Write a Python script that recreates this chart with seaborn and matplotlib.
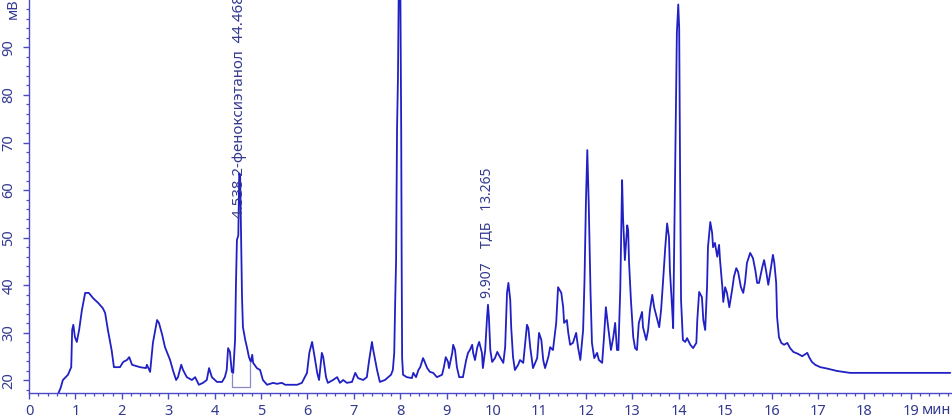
import matplotlib
matplotlib.use("Agg")
import matplotlib.pyplot as plt
from matplotlib.ticker import MultipleLocator, FixedLocator
import seaborn as sns
import pandas as pd

# ---- data (time, min / signal, mV) ----
time_min = [
    0.62, 0.68, 0.73, 0.84, 0.91, 0.93, 0.955, 0.99, 1.03, 1.08, 1.14, 1.21, 1.29, 1.38, 1.49,
    1.59, 1.64, 1.70, 1.78, 1.83, 1.96, 2.03, 2.11, 2.16, 2.22, 2.39, 2.52, 2.54, 2.61, 2.67,
    2.76, 2.80, 2.87, 2.93, 3.04, 3.10, 3.17, 3.21, 3.28, 3.32, 3.40, 3.51, 3.58, 3.66, 3.75,
    3.83, 3.88, 3.94, 4.05, 4.16, 4.22, 4.26, 4.29, 4.33, 4.37, 4.40, 4.44, 4.46, 4.48, 4.51,
    4.53, 4.55, 4.57, 4.59, 4.61, 4.66, 4.70, 4.74, 4.78, 4.81, 4.83, 4.91, 4.98, 5.04, 5.13,
    5.26, 5.34, 5.45, 5.52, 5.78, 5.88, 5.99, 6.04, 6.10, 6.14, 6.21, 6.25, 6.31, 6.34, 6.40,
    6.44, 6.55, 6.64, 6.70, 6.77, 6.85, 6.96, 7.03, 7.09, 7.20, 7.28, 7.33, 7.39, 7.41, 7.50,
    7.56, 7.67, 7.74, 7.80, 7.84, 7.87, 7.89, 7.91, 7.93, 7.95, 7.97, 8.00, 8.02, 8.03, 8.04,
    8.06, 8.14, 8.25, 8.28, 8.34, 8.39, 8.43, 8.49, 8.51, 8.58, 8.64, 8.71, 8.79, 8.90, 8.94,
    8.98, 9.03, 9.05, 9.12, 9.14, 9.18, 9.22, 9.27, 9.35, 9.42, 9.46, 9.50, 9.55, 9.57, 9.61,
    9.66, 9.70, 9.76, 9.78, 9.83, 9.87, 9.89, 9.91, 9.94, 9.98, 10.04, 10.09, 10.15, 10.22, 10.26,
    10.30, 10.33, 10.37, 10.39, 10.43, 10.47, 10.54, 10.58, 10.65, 10.73, 10.76, 10.80, 10.86, 10.95, 10.99,
    11.04, 11.08, 11.12, 11.19, 11.23, 11.29, 11.36, 11.40, 11.47, 11.51, 11.53, 11.59, 11.62, 11.66, 11.72,
    11.79, 11.83, 11.88, 11.94, 11.97, 12.00, 12.03, 12.06, 12.10, 12.13, 12.18, 12.24, 12.28, 12.35, 12.39,
    12.43, 12.48, 12.54, 12.59, 12.63, 12.67, 12.70, 12.74, 12.76, 12.78, 12.80, 12.84, 12.89, 12.91, 12.93,
    12.97, 13.02, 13.06, 13.10, 13.14, 13.21, 13.23, 13.30, 13.34, 13.38, 13.43, 13.47, 13.53, 13.58, 13.62,
    13.66, 13.71, 13.75, 13.79, 13.81, 13.86, 13.88, 13.92, 13.96, 13.99, 14.01, 14.03, 14.05, 14.09, 14.14,
    14.18, 14.25, 14.31, 14.38, 14.40, 14.44, 14.50, 14.53, 14.57, 14.61, 14.63, 14.68, 14.72, 14.74, 14.78,
    14.83, 14.87, 14.89, 14.94, 14.96, 15.00, 15.04, 15.09, 15.15, 15.19, 15.24, 15.28, 15.34, 15.39, 15.43,
    15.47, 15.54, 15.60, 15.65, 15.69, 15.73, 15.80, 15.84, 15.88, 15.93, 15.99, 16.03, 16.06, 16.10, 16.12,
    16.16, 16.21, 16.27, 16.34, 16.40, 16.47, 16.57, 16.66, 16.77, 16.81, 16.87, 16.94, 17.05, 17.20, 17.41,
    17.69, 19.85,
]
signal_mv = [
    17.0, 18.4, 20.1, 21.2, 22.8, 30.6, 31.7, 29.1, 28.1, 30.6, 34.8, 38.4, 38.4, 37.3, 36.3,
    35.2, 34.2, 30.6, 26.4, 22.8, 22.8, 23.9, 24.3, 24.9, 23.3, 22.8, 22.6, 23.3, 21.8, 27.9,
    32.7, 32.1, 29.6, 27.0, 24.3, 22.2, 20.1, 20.7, 23.3, 22.2, 20.7, 20.1, 20.7, 19.1, 19.5,
    20.1, 22.6, 20.7, 19.7, 19.7, 20.7, 22.2, 26.8, 26.0, 21.8, 21.6, 28.5, 40.5, 49.5, 50.5,
    63.5, 63.0, 49.5, 37.5, 31.2, 28.5, 26.8, 24.9, 23.9, 25.4, 23.7, 22.6, 22.2, 20.1, 19.1,
    19.5, 19.3, 19.5, 19.1, 19.1, 19.5, 21.6, 25.8, 28.1, 25.8, 21.6, 20.1, 25.8, 24.9, 20.7,
    19.5, 20.1, 20.7, 19.5, 20.1, 19.5, 19.7, 21.6, 20.5, 20.1, 20.7, 24.3, 28.1, 26.8, 22.2,
    19.7, 20.1, 20.7, 21.2, 22.2, 25.8, 36.3, 45.3, 72.6, 83.5, 105.0, 105.0, 72.6, 45.3, 24.7,
    21.2, 20.7, 20.5, 21.6, 20.7, 22.2, 22.8, 24.7, 24.3, 22.6, 21.8, 21.6, 20.7, 21.2, 22.8,
    24.9, 23.9, 22.6, 25.8, 27.5, 26.4, 22.8, 20.7, 20.7, 24.3, 25.8, 26.4, 27.5, 25.8, 24.3,
    27.0, 28.1, 25.8, 22.6, 26.4, 33.3, 35.9, 33.3, 26.4, 23.9, 24.7, 26.0, 24.9, 23.7, 27.0,
    38.4, 40.5, 36.9, 31.2, 24.9, 22.2, 23.3, 24.3, 23.7, 31.7, 31.0, 27.0, 22.6, 24.7, 30.0,
    28.5, 24.3, 22.6, 24.9, 27.0, 26.4, 32.1, 39.6, 38.4, 35.4, 32.1, 32.7, 30.0, 27.5, 27.9,
    30.0, 27.0, 24.3, 30.6, 41.1, 57.3, 68.4, 57.5, 38.4, 27.9, 24.7, 25.8, 24.3, 23.7, 29.1,
    35.4, 31.2, 26.4, 29.1, 32.1, 26.4, 26.4, 39.0, 50.1, 62.1, 54.3, 45.3, 52.6, 51.6, 44.7,
    36.9, 29.1, 26.8, 26.4, 32.1, 34.4, 31.2, 28.5, 30.6, 34.8, 38.0, 35.4, 33.1, 31.2, 34.8,
    40.5, 48.0, 53.0, 50.1, 43.2, 34.8, 31.0, 62.7, 93.0, 99.0, 94.0, 62.7, 36.9, 28.5, 28.1,
    28.9, 27.5, 26.8, 27.9, 32.7, 38.6, 37.5, 32.7, 30.6, 39.6, 48.0, 53.3, 51.0, 48.0, 48.9,
    46.0, 48.5, 45.3, 39.6, 36.5, 39.6, 38.4, 35.4, 39.0, 41.8, 43.6, 42.8, 39.6, 38.4, 40.7,
    44.7, 46.8, 45.7, 43.2, 40.5, 40.5, 43.8, 45.3, 43.2, 40.1, 43.8, 46.4, 44.7, 40.5, 33.3,
    29.1, 27.9, 27.5, 27.9, 26.8, 26.0, 25.6, 25.1, 25.8, 24.9, 23.9, 23.3, 22.8, 22.5, 22.0,
    21.6, 21.6,
]

# integration baseline box of the labelled peak
box_time = [4.375, 4.375, 4.76, 4.76]
box_mv = [21.6, 18.6, 18.6, 23.9]

# peak annotations
peak_labels = ["4.538 2-феноксиэтанол  44.468", "9.907    ТДБ   13.265"]
peak_label_time = [4.53, 9.87]
peak_label_mv = [54.2, 37.4]
peak_label_size = [10.8, 10]

x_ticks = list(range(0, 20))
y_ticks = [20, 30, 40, 50, 60, 70, 80, 90]
x_unit = "мин"
y_unit = "мВ"

# ---- styling ----
sns.set_style("ticks")
plt.rcParams["font.family"] = ["Noto Sans", "DejaVu Sans"]

TRACE = "#2020c4"
AXIS = "#4a4ac8"
TEXT = "#33398f"

W, H = 953, 420
fig = plt.figure(figsize=(W / 100, H / 100), dpi=100)
ax = fig.add_axes([29 / W, 27 / H, (W - 29) / W, (H - 27) / H])

df = pd.DataFrame({"t": time_min, "mv": signal_mv})
sns.lineplot(data=df, x="t", y="mv", ax=ax, color=TRACE, linewidth=1.3,
             estimator=None, sort=False)
bx = pd.DataFrame({"t": box_time, "mv": box_mv})
sns.lineplot(data=bx, x="t", y="mv", ax=ax, color="#8a8ac8", linewidth=0.9,
             estimator=None, sort=False)

for lab, tx, ty, fs in zip(peak_labels, peak_label_time, peak_label_mv, peak_label_size):
    ax.text(tx, ty, lab, rotation=90, ha="center", va="bottom",
            fontsize=fs, color=TEXT)

ax.set_xlim(0, 19.91)
ax.set_ylim(17.37, 99.94)
ax.set_xlabel("")
ax.set_ylabel("")

ax.xaxis.set_major_locator(FixedLocator(x_ticks))
ax.xaxis.set_minor_locator(MultipleLocator(0.2))
ax.yaxis.set_major_locator(FixedLocator(y_ticks))
ax.yaxis.set_minor_locator(MultipleLocator(2))

for s in ["top", "right"]:
    ax.spines[s].set_visible(False)
for s in ["left", "bottom"]:
    ax.spines[s].set_color(AXIS)
    ax.spines[s].set_linewidth(1.0)

ax.tick_params(axis="both", which="major", length=4, width=1.0, color=AXIS,
               labelcolor=TEXT, labelsize=10.5)
ax.tick_params(axis="both", which="minor", length=2.5, width=0.9, color=AXIS)
ax.tick_params(axis="x", which="major", pad=4)
ax.tick_params(axis="y", which="major", pad=5)
for lbl in ax.get_yticklabels():
    lbl.set_rotation(90)
    lbl.set_va("center")

fig.text(13 / W, (H - 19) / H, y_unit, rotation=90, ha="center", va="bottom",
         fontsize=10.5, color=TEXT)
fig.text(951 / W, (H - 411) / H, x_unit, ha="right", va="center", fontsize=10.5,
         color=TEXT, bbox=dict(facecolor="white", edgecolor="none", pad=1.0))

fig.savefig("out.png", dpi=100)
